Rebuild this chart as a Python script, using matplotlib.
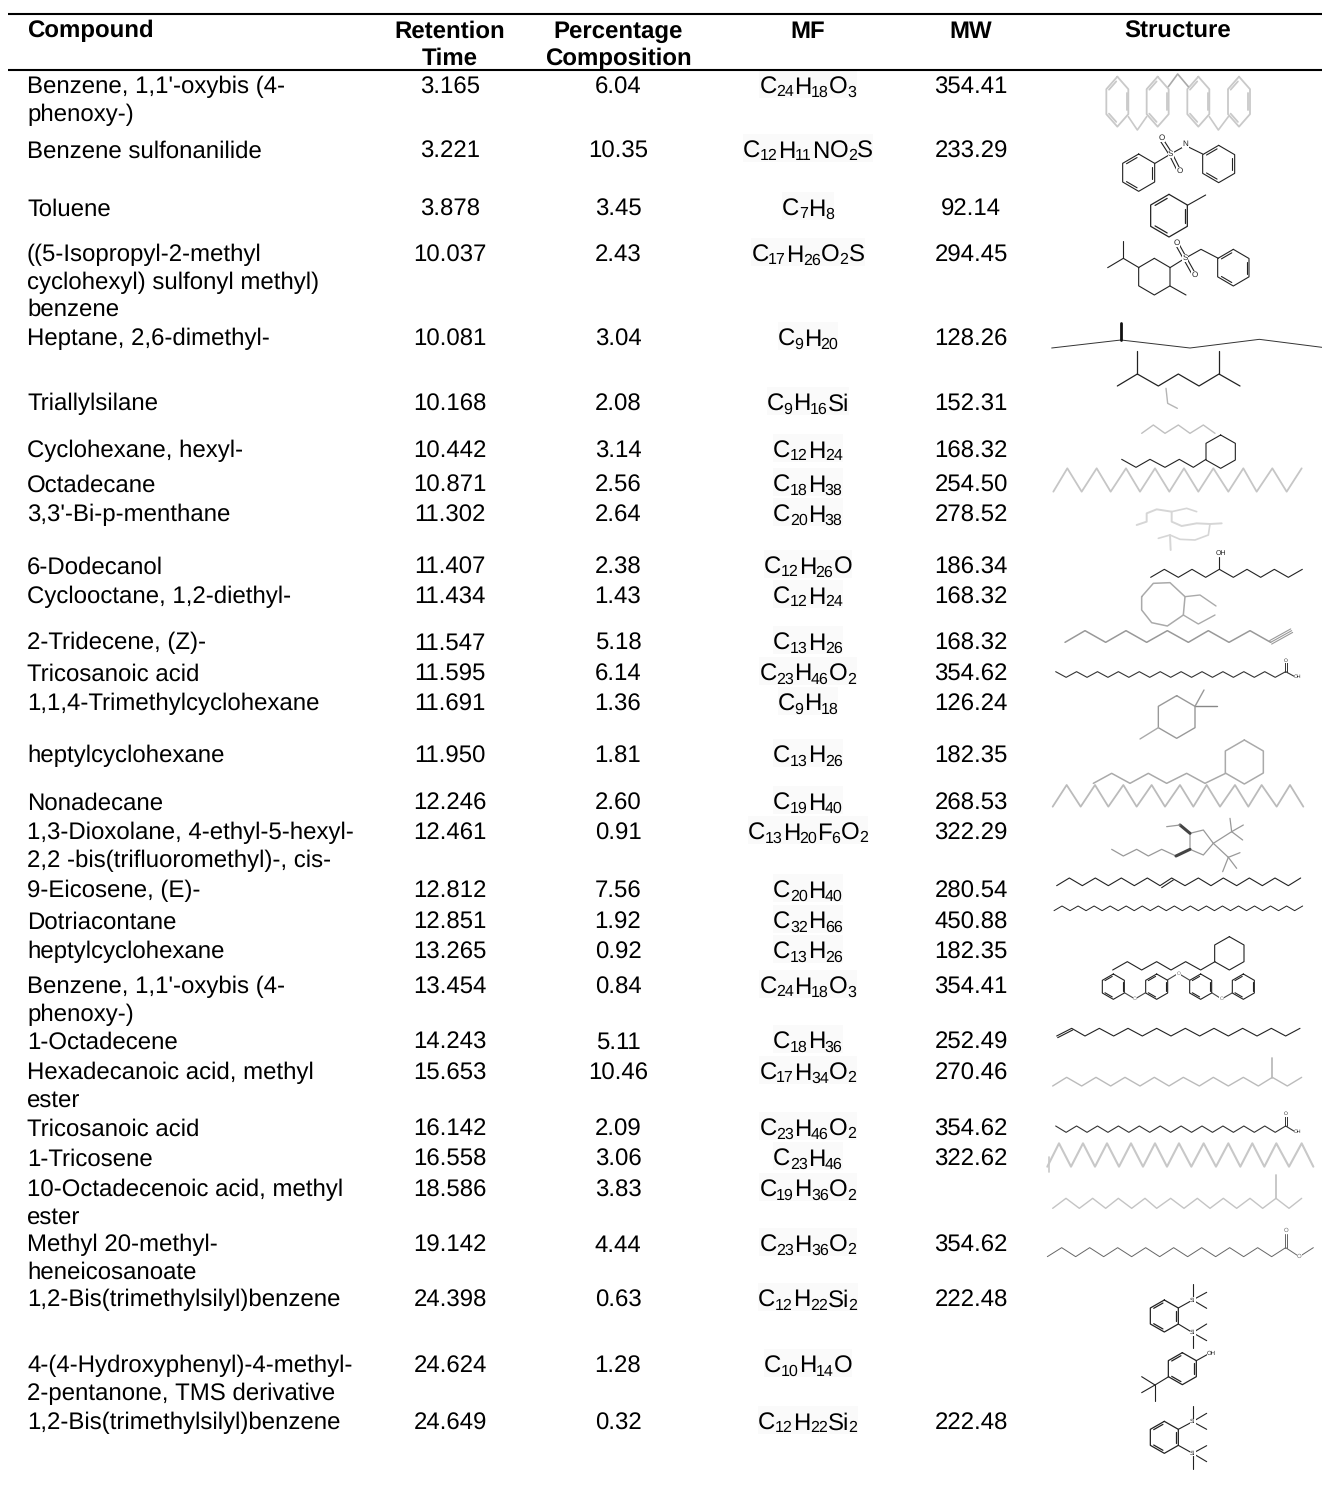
import matplotlib
matplotlib.use('Agg')
import matplotlib.pyplot as plt
from matplotlib.patches import Rectangle
import numpy as np

plt.rcParams['font.family'] = ['Liberation Sans', 'DejaVu Sans']
plt.rcParams['text.hinting'] = 'no_hinting'
plt.rcParams['text.hinting_factor'] = 1

headers = ["Compound", "Retention\nTime", "Percentage\nComposition", "MF", "MW", "Structure"]
compounds = ["Benzene, 1,1'-oxybis (4-\nphenoxy-)", "Benzene sulfonanilide", "Toluene",
             "((5-Isopropyl-2-methyl\ncyclohexyl) sulfonyl methyl)\nbenzene", "Heptane, 2,6-dimethyl-",
             "Triallylsilane", "Cyclohexane, hexyl-", "Octadecane", "3,3'-Bi-p-menthane", "6-Dodecanol",
             "Cyclooctane, 1,2-diethyl-", "2-Tridecene, (Z)-", "Tricosanoic acid", "1,1,4-Trimethylcyclohexane",
             "heptylcyclohexane", "Nonadecane", "1,3-Dioxolane, 4-ethyl-5-hexyl-\n2,2 -bis(trifluoromethyl)-, cis-",
             "9-Eicosene, (E)-", "Dotriacontane", "heptylcyclohexane", "Benzene, 1,1'-oxybis (4-\nphenoxy-)",
             "1-Octadecene", "Hexadecanoic acid, methyl\nester", "Tricosanoic acid", "1-Tricosene",
             "10-Octadecenoic acid, methyl\nester", "Methyl 20-methyl-\nheneicosanoate",
             "1,2-Bis(trimethylsilyl)benzene", "4-(4-Hydroxyphenyl)-4-methyl-\n2-pentanone, TMS derivative",
             "1,2-Bis(trimethylsilyl)benzene"]
retention = ["3.165", "3.221", "3.878", "10.037", "10.081", "10.168", "10.442", "10.871", "11.302", "11.407",
             "11.434", "11.547", "11.595", "11.691", "11.950", "12.246", "12.461", "12.812", "12.851", "13.265",
             "13.454", "14.243", "15.653", "16.142", "16.558", "18.586", "19.142", "24.398", "24.624", "24.649"]
percent = ["6.04", "10.35", "3.45", "2.43", "3.04", "2.08", "3.14", "2.56", "2.64", "2.38", "1.43", "5.18", "6.14",
           "1.36", "1.81", "2.60", "0.91", "7.56", "1.92", "0.92", "0.84", "5.11", "10.46", "2.09", "3.06", "3.83",
           "4.44", "0.63", "1.28", "0.32"]
formula = ["C24 H18 O3", "C12 H11 N O2 S", "C7 H8", "C17 H26 O2 S", "C9 H20", "C9 H16 Si", "C12 H24", "C18 H38",
           "C20 H38", "C12 H26 O", "C12 H24", "C13 H26", "C23 H46 O2", "C9 H18", "C13 H26", "C19 H40",
           "C13 H20 F6 O2", "C20 H40", "C32 H66", "C13 H26", "C24 H18 O3", "C18 H36", "C17 H34 O2", "C23 H46 O2",
           "C23 H46", "C19 H36 O2", "C23 H36 O2", "C12 H22 Si2", "C10 H14 O", "C12 H22 Si2"]
weight = ["354.41", "233.29", "92.14", "294.45", "128.26", "152.31", "168.32", "254.50", "278.52", "186.34",
          "168.32", "168.32", "354.62", "126.24", "182.35", "268.53", "322.29", "280.54", "450.88", "182.35",
          "354.41", "252.49", "270.46", "354.62", "322.62", "", "354.62", "222.48", "", "222.48"]

row_y = [85, 149, 207, 253, 337, 402, 449, 483, 513, 565, 595, 641, 672, 702, 754, 801, 831, 889, 920, 950, 985,
         1040, 1071, 1127, 1157, 1188, 1243, 1298, 1364, 1421]
col_x = [27, 450, 618, 808, 971, 1178]
FS = 17.25
LEAD = 27.3
BASE = 8.5
EM = FS * 100 / 72
SUB = 0.66
ADV = {'C': .722, 'H': .722, 'O': .778, 'N': .722, 'S': .667, 'F': .611, 'i': .222}

fig = plt.figure(figsize=(13.22, 14.95), dpi=100)
ax = fig.add_axes([0, 0, 1, 1])
ax.set_xlim(0, 1322)
ax.set_ylim(1495, 0)
ax.axis('off')


def put(x, y, s, ha='center', **kw):
    for k, line in enumerate(s.split('\n')):
        ax.text(x, y + BASE + k * LEAD, line, ha=ha, va='baseline', fontsize=FS, color='black', **kw)


def put_formula(x, y, s):
    runs = []
    for part in s.split():
        i = 0
        while i < len(part) and not part[i].isdigit():
            i += 1
        runs.append((part[:i], False))
        if part[i:]:
            runs.append((part[i:], True))
    widths = [len(t) * .556 * EM * SUB if sub else sum(ADV[c] for c in t) * EM for t, sub in runs]
    total = sum(widths)
    cur = x - total / 2
    ax.add_patch(Rectangle((cur, y - 15), total, 28, fc='#fafafa', ec='none', zorder=0))
    for (t, sub), w in zip(runs, widths):
        ax.text(cur - (0.5 if sub else 0), y + BASE + (3 if sub else 0), t, ha='left', va='baseline',
                fontsize=FS * SUB if sub else FS, color='black')
        cur += w


for r, (x, h) in enumerate(zip(col_x, headers)):
    put(x, 29, h, ha='left' if r == 0 else 'center', fontweight='bold')
ax.plot([8, 1322], [14, 14], color='black', lw=1.5, solid_capstyle='butt')
ax.plot([8, 1322], [70, 70], color='black', lw=1.5, solid_capstyle='butt')

for i, y in enumerate(row_y):
    put(col_x[0], y, compounds[i], ha='left')
    put(col_x[1], y, retention[i])
    put(col_x[2], y, percent[i])
    put_formula(col_x[3], y, formula[i])
    put(col_x[4], y, weight[i])


# Structure sketches, in 3x-zoom units of the right-hand column
def P(zx, zy, off):
    return 1040 + np.asarray(zx, float) / 3, off + np.asarray(zy, float) / 3


def poly(pts, off, c='#222222', lw=0.8):
    a = np.array(pts, float)
    X, Y = P(a[:, 0], a[:, 1], off)
    ax.plot(X, Y, color=c, lw=lw, solid_joinstyle='round', solid_capstyle='round')


def zig(xs, y0, y1, off, c='#222222', lw=0.8):
    poly([(x, y0 if k % 2 == 0 else y1) for k, x in enumerate(xs)], off, c, lw)


def ring(cx, cy, rx, ry, off, c='#222222', lw=0.8, dbl=True, n=6):
    ang = np.radians(np.arange(n + 1) * 360 / n - 90)
    pts = list(zip(cx + rx / np.cos(np.radians(30)) * np.cos(ang), cy + ry * np.sin(ang)))
    poly(pts, off, c, lw)
    if dbl:
        for k in (1, 3, 5):
            a, b = np.array(pts[k]), np.array(pts[k + 1])
            m = np.array([cx, cy])
            poly([a + (m - a) * 0.14 + (b - a) * 0.1, b + (m - b) * 0.14 + (a - b) * 0.1], off, c, lw)


def dbl_bond(a, b, off, c='#222222', lw=0.8, d=5):
    a, b = np.array(a, float), np.array(b, float)
    n = np.array([-(b - a)[1], (b - a)[0]])
    n = n / np.hypot(*n) * d
    poly([a + n, b + n], off, c, lw)
    poly([a - n, b - n], off, c, lw)


def atom(zx, zy, off, s, c='#222222', fs=5.5):
    X, Y = P(zx, zy, off)
    ax.text(X, Y, s, ha='center', va='center', fontsize=fs, color=c,
            bbox=dict(fc='white', ec='none', pad=0.2))


# S1 faded diaryl ether
g = '#c9c9c9'
for cx in (232, 353, 475, 597):
    ring(cx, 305, 33, 75, 0, g, 1.3)
poly([(265, 350), (292, 390), (320, 350)], 0, g, 1.2)
poly([(385, 260), (413, 222), (445, 260)], 0, '#aaaaaa', 1.2)
poly([(508, 350), (535, 390), (565, 350)], 0, g, 1.2)

# S2 benzene sulfonanilide
ring(296, 518, 48, 56, 0)
ring(536, 492, 48, 56, 0)
poly([(345, 490), (392, 462), (437, 437), (488, 462)], 0)
dbl_bond((392, 462), (365, 420), 0)
dbl_bond((392, 462), (417, 512), 0)
atom(392, 462, 0, 'S')
atom(437, 432, 0, 'N')
atom(365, 415, 0, 'O')
atom(418, 513, 0, 'O')

# S3 toluene
ring(387, 647, 55, 64, 0, lw=0.9)
poly([(442, 616), (497, 585)], 0)

# S4 sulfonyl
poly([(250, 722), (250, 775)], 0)
poly([(203, 803), (250, 775), (297, 803)], 0)
ring(343, 830, 47, 55, 0, dbl=False)
poly([(390, 858), (438, 885)], 0)
poly([(390, 803), (435, 775), (483, 748), (535, 775)], 0)
ring(580, 803, 47, 55, 0)
dbl_bond((435, 775), (410, 730), 0)
dbl_bond((435, 775), (463, 825), 0)
atom(435, 775, 0, 'S')
atom(410, 728, 0, 'O')
atom(464, 826, 0, 'O')

# S5 stretched fragment + S6 heptane
poly([(35, 1044), (243, 1020), (450, 1044), (658, 1018), (846, 1042)], 0, '#333333', 0.7)
poly([(243, 968), (243, 1020)], 0, '#111111', 2.0)
zig([232, 292, 355, 415, 477, 537, 600], 1158, 1122, 0, lw=0.9)
poly([(292, 1122), (292, 1052)], 0, lw=0.9)
poly([(537, 1122), (537, 1052)], 0, lw=0.9)

# S7 triallylsilane (faded)
poly([(378, 1165), (383, 1210), (412, 1225)], 0, '#b5b5b5', 1.0)
zig([305, 340, 375, 415, 450, 490, 525], 1300, 1275, 0, '#c0c0c0', 1.0)

# S8 cyclohexane, hexyl
ring(542, 1355, 44, 50, 0, dbl=False)
zig([245, 288, 330, 375, 418, 460, 498], 1378, 1402, 0)

# S9 octadecane
g9 = '#c6c6c6'
zig([40, 82, 125, 170, 212, 258, 300, 345, 388, 432, 475, 520, 565, 610, 650, 697, 740, 785],
    1475, 1405, 0, g9, 1.3)

# S10 bi-p-menthane (faded)
g10 = '#d6d6d6'
poly([(290, 75), (320, 65), (320, 40), (350, 28), (395, 35), (395, 65), (425, 78), (470, 70), (510, 72), (545, 70)],
     500, g10, 1.4)
poly([(395, 35), (440, 25), (470, 35)], 500, g10, 1.2)
poly([(510, 72), (505, 105), (465, 120), (420, 118), (390, 105), (355, 115)], 500, g10, 1.2)
poly([(390, 105), (392, 150)], 500, g10, 1.4)

# S11 6-dodecanol
zig([332, 373, 415, 456, 497, 538, 580, 621, 662, 703, 745, 787], 232, 208, 500)
poly([(538, 208), (538, 172)], 500)
atom(542, 160, 500, 'OH', fs=5)

# S12 cyclooctane, diethyl
g12 = '#aaaaaa'
poly([(305, 290), (340, 250), (390, 248), (435, 290), (430, 345), (382, 378), (335, 368), (305, 330), (305, 290)],
     500, g12, 1.1)
poly([(435, 290), (480, 285), (528, 318)], 500, g12, 1.0)
poly([(430, 345), (475, 372), (525, 345)], 500, g12, 1.0)

# S13 2-tridecene
zig([75, 135, 197, 258, 320, 382, 445, 505, 567, 630, 692], 427, 392, 500, '#999999', 1.1)
dbl_bond((692, 427), (755, 392), 500, '#999999', 0.8, d=6)
poly([(692, 427), (755, 392)], 500, '#999999', 0.8)

# S14 / S25 tricosanoic acid
for y0, y1, yo, off in ((515, 532, 485, 500), (378, 397, 345, 1000)):
    zig(list(np.linspace(47, 737, 23)), y0, y1, off, '#333333', 0.8)
    poly([(737, y0), (768, y1)], off, '#333333', 0.8)
    dbl_bond((737, y0), (737, yo), off, '#333333', 0.7, d=3)
    atom(737, yo - 3, off, 'O', fs=3.5)
    atom(773, y1 - 1, off, 'OH', fs=3.5)

# S15 trimethylcyclohexane
ring(410, 651, 55, 64, 500, '#999999', 1.0, dbl=False)
poly([(465, 619), (530, 619)], 500, '#888888', 1.0)
poly([(465, 619), (492, 570)], 500, '#999999', 1.0)
poly([(355, 683), (300, 717)], 500, '#aaaaaa', 1.0)

# S16 heptylcyclohexane (faded)
ring(613, 786, 57, 66, 500, '#aaaaaa', 1.1, dbl=False)
zig([160, 215, 270, 325, 380, 440, 495, 557], 850, 820, 500, '#aaaaaa', 1.1)

# S17 nonadecane
zig([38, 80, 122, 165, 205, 250, 290, 335, 375, 420, 460, 500, 540, 585, 625, 665, 710, 750, 790],
    920, 855, 500, '#bbbbbb', 1.3)

# S18 dioxolane
g18 = '#999999'
poly([(450, 1000), (490, 990), (520, 1030), (490, 1065), (450, 1048), (450, 1000)], 500, g18, 0.9)
zig([215, 250, 290, 325, 365, 408], 1048, 1068, 500, g18, 0.9)
poly([(408, 1068), (450, 1048)], 500, '#444444', 2.2)
poly([(450, 1000), (420, 975)], 500, '#444444', 2.2)
poly([(420, 975), (380, 980)], 500, g18, 0.9)
poly([(520, 1030), (575, 995)], 500, g18, 0.9)
for p in ((570, 955), (610, 975), (608, 1020)):
    poly([(575, 995), p], 500, g18, 0.9)
poly([(520, 1030), (565, 1072)], 500, g18, 0.9)
for p in ((600, 1058), (590, 1105), (548, 1115)):
    poly([(565, 1072), p], 500, g18, 0.9)

# S19 9-eicosene
zig([50, 88, 127, 166, 205, 244, 283, 322, 360, 395, 435, 475, 513, 550, 590, 628, 667, 705, 745, 782],
    1157, 1134, 500, lw=0.8)
poly([(365, 1163), (400, 1140)], 500, lw=0.8)

# S20 dotriacontane
zig(list(np.linspace(42, 788, 32)), 1232, 1218, 500, lw=0.7)

# S21 heptylcyclohexane
ring(568, 1360, 44, 50, 500, dbl=False)
zig([218, 262, 305, 350, 393, 437, 482, 525], 1410, 1385, 500)

# S22 benzene oxybis
for cx in (220, 350, 482, 610):
    ring(cx, 1460, 33, 38, 500)
poly([(253, 1478), (285, 1497), (317, 1478)], 500, '#444444')
poly([(382, 1440), (415, 1420), (448, 1440)], 500, '#444444')
poly([(515, 1478), (545, 1497), (578, 1478)], 500, '#444444')
atom(285, 1497, 500, 'O', '#666666', 3.5)
atom(415, 1420, 500, 'O', '#666666', 3.5)
atom(545, 1497, 500, 'O', '#666666', 3.5)

# S23 1-octadecene
zig([50, 95, 135, 178, 221, 264, 307, 350, 393, 436, 479, 522, 565, 608, 651, 694, 737, 780], 108, 85, 1000)
poly([(53, 113), (98, 90)], 1000)

# S24 hexadecanoate (faded)
g24 = '#bbbbbb'
zig([38, 80, 125, 168, 212, 255, 300, 343, 387, 430, 478, 520, 565, 610, 655, 697, 742, 785], 258, 232, 1000, g24, 1.0)
poly([(697, 233), (697, 175)], 1000, g24, 1.3)

# S26 1-tricosene
zig([22, 57, 93, 129, 165, 201, 237, 273, 309, 345, 381, 417, 454, 491, 528, 565, 601, 637, 673, 709, 747, 785, 820],
    500, 430, 1000, '#c8c8c8', 1.5)
poly([(28, 515), (28, 470)], 1000, '#c8c8c8', 1.2)

# S27 octadecenoate (faded)
zig([38, 78, 118, 158, 197, 235, 275, 315, 350, 392, 432, 472, 510, 550, 590, 630, 668, 708, 747, 785],
    625, 595, 1000, '#c4c4c4', 1.0)
poly([(708, 595), (708, 525)], 1000, '#c4c4c4', 1.3)

# S28 methyl ester
g28 = '#666666'
zig([22, 65, 107, 149, 191, 233, 275, 317, 359, 401, 443, 485, 527, 569, 611, 653, 695, 737, 778, 820],
    770, 743, 1000, g28, 0.7)
dbl_bond((737, 743), (737, 702), 1000, g28, 0.7, d=3)
atom(737, 692, 1000, 'O', g28, 4.5)
atom(778, 768, 1000, 'O', g28, 4.5)


# S29 / S31 bis(trimethylsilyl)benzene
def tms(off, cy, si1, ends1, si2, ends2):
    ring(373, cy, 42, 48, off, lw=0.9)
    poly([(415, cy - 24), si1], off)
    poly([(415, cy + 24), si2], off)
    for p in ends1:
        poly([si1, p], off)
    for p in ends2:
        poly([si2, p], off)
    atom(si1[0], si1[1], off, 'Si', fs=4)
    atom(si2[0], si2[1], off, 'Si', fs=4)


tms(1000, 948, (458, 900), [(458, 852), (500, 877), (500, 925)], (458, 998), [(458, 1045), (500, 972), (500, 1022)])
tms(1000, 1312, (458, 1265), [(458, 1217), (500, 1240), (500, 1288)], (458, 1360), [(458, 1408), (500, 1337), (500, 1385)])

# S30 tert-butylphenol
ring(427, 1106, 42, 48, 1000, lw=0.9)
poly([(469, 1082), (503, 1063)], 1000)
atom(515, 1060, 1000, 'OH', fs=4.5)
poly([(386, 1130), (345, 1155)], 1000)
for p in ((305, 1130), (305, 1178), (345, 1202)):
    poly([(345, 1155), p], 1000)

fig.savefig('out.png', dpi=100)
